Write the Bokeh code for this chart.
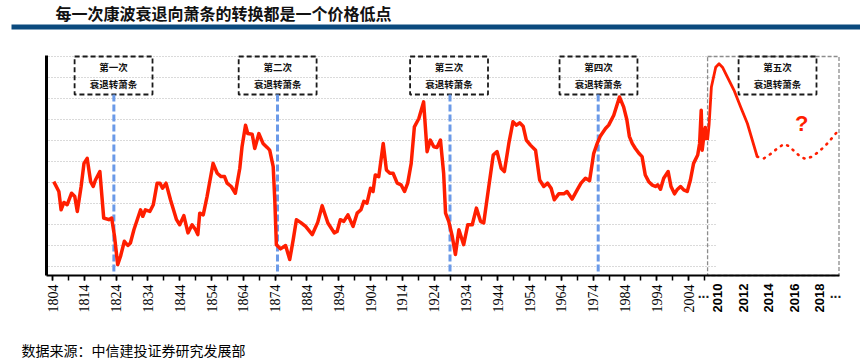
import math
from bokeh.plotting import figure
from bokeh.models import Range1d, FixedTicker, LabelSet, ColumnDataSource
from bokeh.embed import file_html
from bokeh.resources import INLINE
from bokeh.core.properties import value

TITLE = "每一次康波衰退向萧条的转换都是一个价格低点"
SOURCE = "数据来源：中信建投证券研究发展部"

# historical price index (relative units)
hist_years = [1804.4, 1806.0, 1806.7, 1807.6, 1808.6, 1810.0, 1811.0, 1811.8, 1813.0, 1813.9,
              1814.9, 1816.0, 1816.8, 1817.5, 1818.9, 1820.1, 1821.7, 1822.6, 1823.5, 1824.5,
              1825.4, 1826.6, 1827.7, 1828.5, 1829.6, 1831.7, 1832.4, 1833.2, 1834.6, 1835.7,
              1836.9, 1837.8, 1838.6, 1839.7, 1841.1, 1843.0, 1844.0, 1845.3, 1846.6, 1847.9,
              1849.0, 1849.7, 1850.3, 1851.4, 1852.6, 1854.5, 1855.8, 1857.0, 1858.1, 1858.9,
              1860.2, 1861.5, 1862.9, 1863.6, 1864.7, 1865.4, 1866.8, 1867.6, 1868.9, 1870.2,
              1871.5, 1872.3, 1873.4, 1873.9, 1874.4, 1875.7, 1877.3, 1878.6, 1879.7, 1880.7,
              1882.0, 1883.6, 1885.7, 1887.4, 1888.8, 1890.6, 1892.6, 1893.5, 1894.5, 1895.6,
              1896.9, 1898.5, 1899.8, 1901.0, 1901.9, 1902.9, 1904.0, 1904.8, 1905.5, 1906.6,
              1908.0, 1909.0, 1910.1, 1911.1, 1912.4, 1913.6, 1914.7, 1915.7, 1916.8, 1917.8,
              1919.2, 1920.7, 1921.8, 1922.8, 1923.9, 1924.9, 1926.0, 1927.0, 1927.6, 1928.6,
              1929.7, 1930.7, 1931.8, 1933.3, 1934.6, 1936.0, 1937.3, 1938.6, 1939.6, 1941.2,
              1942.6, 1943.8, 1945.1, 1946.1, 1947.5, 1948.8, 1949.9, 1950.9, 1952.0, 1953.0,
              1954.3, 1955.9, 1957.2, 1958.5, 1959.7, 1960.8, 1961.8, 1963.2, 1964.8, 1965.8,
              1967.4, 1969.0, 1970.2, 1971.6, 1972.9, 1974.2, 1975.3, 1976.3, 1977.9, 1978.9,
              1980.5, 1982.3, 1983.6, 1984.6, 1985.4, 1986.3, 1987.3, 1988.4, 1989.4, 1990.4,
              1991.5, 1992.5, 1993.6, 1994.3, 1995.2, 1996.2, 1997.6, 1998.5, 1999.6, 2000.4,
              2001.5, 2002.5, 2003.6, 2004.6, 2005.6, 2006.9, 2007.5, 2008.0, 2008.3, 2008.8,
              2009.3, 2009.8]
hist_vals = [4.04, 3.57, 2.70, 3.05, 2.94, 3.49, 3.33, 2.62, 3.81, 4.91,
             5.15, 4.04, 3.81, 4.12, 4.52, 2.31, 2.23, 2.31, 1.44, 0.09,
             0.49, 1.20, 1.00, 1.12, 1.75, 2.70, 2.39, 2.70, 2.62, 2.94,
             3.97, 3.97, 3.73, 3.97, 3.18, 2.23, 1.99, 2.42, 1.60, 1.99,
             1.75, 1.52, 2.54, 2.46, 3.33, 4.91, 4.44, 4.28, 4.28, 3.97,
             3.81, 3.49, 4.68, 5.70, 6.73, 6.33, 6.30, 5.62, 6.33, 5.86,
             5.67, 5.54, 4.76, 3.18, 1.04, 0.84, 1.00, 0.33, 1.28, 2.23,
             2.10, 1.91, 1.52, 2.10, 2.89, 2.07, 1.60, 1.67, 2.23, 2.15,
             2.46, 1.91, 2.54, 2.70, 3.10, 3.02, 3.73, 3.57, 4.36, 4.28,
             5.86, 4.60, 4.44, 4.44, 3.97, 3.89, 3.57, 3.97, 4.91, 6.65,
             7.05, 7.84, 5.47, 6.02, 5.70, 5.67, 6.02, 4.44, 2.54, 2.15,
             1.44, 0.57, 1.75, 1.04, 1.99, 1.99, 2.78, 2.15, 2.07, 3.81,
             5.31, 5.47, 4.68, 4.52, 5.86, 6.89, 6.73, 6.84, 6.68, 6.02,
             5.78, 5.54, 4.12, 3.81, 3.97, 3.73, 3.18, 3.46, 3.46, 3.57,
             3.21, 3.65, 3.97, 4.20, 4.09, 5.39, 5.86, 6.22, 6.57, 6.73,
             7.20, 8.07, 7.60, 7.00, 6.20, 5.86, 5.62, 5.39, 5.23, 4.36,
             4.04, 3.89, 3.81, 3.89, 3.68, 4.20, 4.52, 3.81, 3.46, 3.65,
             3.81, 3.65, 3.57, 4.12, 4.91, 5.31, 5.86, 7.44, 5.54, 6.18,
             6.62, 6.02]

# projection after 2009 (expanded time scale)
proj_years = [2009.2, 2009.32, 2009.5, 2009.84, 2010.1, 2010.37, 2010.76, 2011.28, 2011.8, 2012.33, 2013.1]
proj_vals = [6.02, 6.76, 8.55, 9.49, 9.65, 9.49, 9.02, 8.39, 7.60, 6.81, 5.23]
fcst_years = [2013.1, 2013.63, 2014.16, 2014.68, 2015.2, 2015.6, 2016.0, 2016.5, 2016.9, 2017.4,
              2017.95, 2018.5, 2019.0, 2019.6]
fcst_vals = [5.23, 5.15, 5.36, 5.62, 5.83, 5.73, 5.50, 5.23, 5.12, 5.23, 5.47, 5.78, 6.13, 6.57]

box_top_labels = ["第一次", "第二次", "第三次", "第四次", "第五次"]
box_sub_label = "衰退转萧条"
box_hist_years = [1823.2, 1874.8, 1928.7, 1975.7]
box_future_year = 2014.7
shift_years = [1823.3, 1874.75, 1929.0, 1975.6]

hist_tick_years = list(range(1804, 2005, 10))
hist_minor_years = list(range(1804, 2010, 5))
future_tick_years = [2010, 2012, 2014, 2016, 2018]
break_marks = ["...", "..."]
grid_vals = list(range(0, 11))

# piecewise time scale: history in years, future stretched 4x after the break
BREAK_U = 2010.0
FUT_ORIGIN = 2009.2
FUT_STRETCH = 4.0


def fut(y):
    return BREAK_U + (y - FUT_ORIGIN) * FUT_STRETCH


# helpers that turn page pixels into data units (layout only: title, bar, source)
def ux(px):
    return 1804 + (px - 52) / 3.18


def vy(py):
    return (266 - py) / 21.0


W, H = 860, 359
AXIS_Y = vy(275)            # where the time axis sits
PLOT_L, PLOT_R = ux(46), ux(839)
TOP_V = vy(55)
RED = "#FF1E00"
CJK = "Noto Sans CJK SC"

p = figure(width=W, height=H, x_range=Range1d(ux(0), ux(W)), y_range=Range1d(vy(H), vy(0)),
           output_backend="svg", toolbar_location=None, min_border=0,
           min_border_left=0, min_border_right=0, min_border_top=0, min_border_bottom=0)
p.grid.visible = False
p.outline_line_color = None
p.background_fill_color = "white"
p.border_fill_color = "white"

xa = p.xaxis[0]
xa.fixed_location = AXIS_Y
xa.bounds = (PLOT_L, PLOT_R)
xa.ticker = FixedTicker(ticks=hist_tick_years, minor_ticks=hist_minor_years)
xa.major_label_orientation = math.pi / 2
xa.major_label_text_font = "Liberation Serif"
xa.major_label_text_font_size = "14px"
xa.major_label_text_color = "black"
xa.major_label_standoff = 4
xa.major_tick_out = 5
xa.major_tick_in = 0
xa.minor_tick_out = 5
xa.minor_tick_in = 0
xa.major_tick_line_width = 1.5
xa.minor_tick_line_width = 1.5
xa.major_tick_line_color = "black"
xa.minor_tick_line_color = "black"
xa.axis_line_width = 2
xa.axis_line_color = "black"

ya = p.yaxis[0]
ya.fixed_location = PLOT_L
ya.bounds = (AXIS_Y, TOP_V)
ya.ticker = FixedTicker(ticks=[])
ya.major_label_text_font_size = "0px"
ya.major_tick_line_color = None
ya.minor_tick_line_color = None
ya.axis_line_width = 3
ya.axis_line_color = "black"

# title and its rule
p.text(x=[ux(55)], y=[vy(12)], text=[TITLE], text_align="left", text_baseline="middle",
       text_font=value(CJK), text_font_style="bold", text_font_size="16px", text_color="#111111")
p.quad(left=[ux(11)], right=[ux(W)], top=[vy(24)], bottom=[vy(29)], fill_color="#0B4A7E",
       line_color=None)

# dotted horizontal grid (historical part only)
p.segment(x0=[ux(48)] * len(grid_vals), x1=[ux(715)] * len(grid_vals), y0=grid_vals, y1=grid_vals,
          line_color="#B4B4B4", line_width=1, line_dash="1 2")

# future region frame
p.quad(left=[BREAK_U], right=[ux(838.5)], top=[10.0], bottom=[AXIS_Y], fill_color=None,
       line_color="#8C8C8C", line_width=1.3, line_dash="4 2")

# period boxes
box_centers = box_hist_years + [fut(box_future_year)]
half_w = 12.25
p.quad(left=[c - half_w for c in box_centers], right=[c + half_w for c in box_centers],
       top=[10.0] * 5, bottom=[8.19] * 5, fill_color=None,
       line_color="#1A1A1A", line_width=1.8, line_dash="5 3")
p.text(x=box_centers, y=[9.49] * 5, text=box_top_labels, text_align="center", text_baseline="middle",
       text_font=value(CJK), text_font_style="bold", text_font_size="9.5px", text_color="#111111")
p.text(x=box_centers, y=[8.67] * 5, text=[box_sub_label] * 5, text_align="center",
       text_baseline="middle", text_font=value(CJK), text_font_style="bold",
       text_font_size="9.5px", text_color="#111111")

# blue dashed transition markers
p.segment(x0=shift_years, x1=shift_years, y0=[8.19] * 4, y1=[AXIS_Y] * 4,
          line_color="#6B9AE8", line_width=3, line_dash="7 3")

# price series
p.line(hist_years, hist_vals, line_color=RED, line_width=3.5, line_join="round")
p.line([fut(y) for y in proj_years], proj_vals, line_color=RED, line_width=2.8, line_join="round")
p.line([fut(y) for y in fcst_years], fcst_vals, line_color=RED, line_width=2.6,
       line_dash="1 6", line_cap="round")
p.text(x=[fut(2016.6)], y=[6.81], text=["?"], text_align="center", text_baseline="middle",
       text_font=value("Liberation Sans"), text_font_style="bold", text_font_size="22px",
       text_color=RED)

# future tick labels (expanded scale)
fsrc = ColumnDataSource(dict(x=[fut(y) for y in future_tick_years], y=[vy(283)] * len(future_tick_years),
                             t=[str(y) for y in future_tick_years]))
p.add_layout(LabelSet(x="x", y="y", text="t", source=fsrc, angle=math.pi / 2,
                      text_align="right", text_baseline="middle", text_font=value("Liberation Sans"),
                      text_font_style="bold", text_font_size="13px", text_color="black"))
# scale-break marks
p.text(x=[ux(703), ux(835)], y=[vy(292), vy(292)], text=break_marks, text_align="center",
       text_baseline="middle", text_font=value("Liberation Sans"), text_font_size="14px",
       text_font_style="bold", text_color="#222222")

# source note
p.text(x=[ux(21)], y=[vy(349)], text=[SOURCE], text_align="left", text_baseline="middle",
       text_font=value(CJK), text_font_size="14px", text_color="black")

open("out.html", "w").write(file_html(p, INLINE))
